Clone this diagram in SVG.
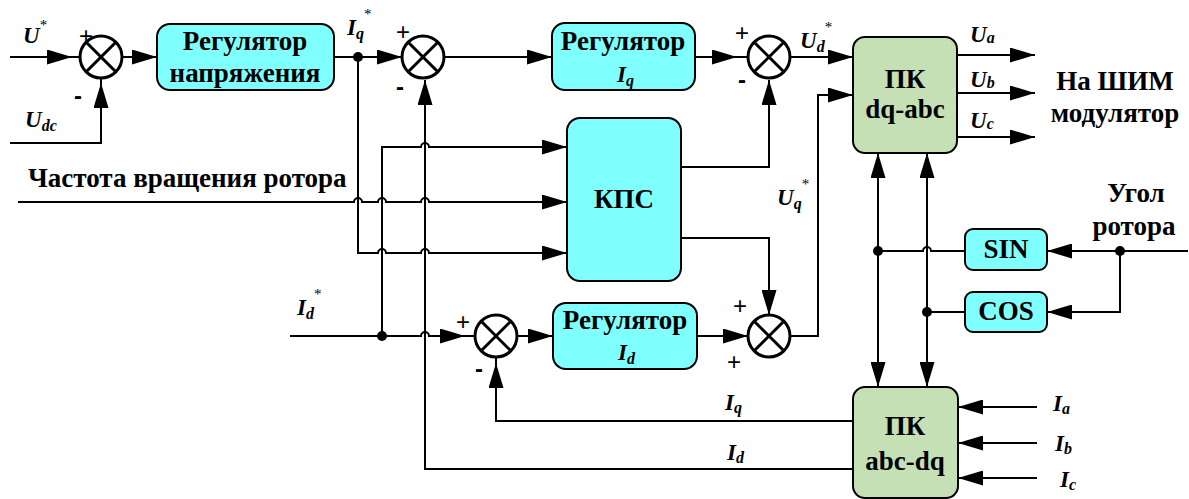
<svg xmlns="http://www.w3.org/2000/svg" width="1189" height="499" viewBox="0 0 1189 499">
<style>
.ln{fill:none;stroke:#000;stroke-width:2}
.ar{marker-end:url(#ah)}
.sum circle{fill:#fff;stroke:#000;stroke-width:3}
.sum path{stroke:#000;stroke-width:3;fill:none}
.cy{fill:#80FFFF;stroke:#000;stroke-width:2}
.gr{fill:#C5E0B4;stroke:#000;stroke-width:2}
text{font-family:'Liberation Serif','DejaVu Serif',serif}
.t{font-weight:700;font-size:27px;fill:#000;text-anchor:middle}
.ts{font-weight:700;font-size:27px;fill:#000;text-anchor:start}
.l{font-weight:700;font-style:italic;font-size:23px;fill:#000}
.s{font-size:16px}
.st{font-size:15px;font-style:normal;font-weight:normal}
text.pm{font-family:'Liberation Sans',Arial,sans-serif;font-size:24px;fill:#000;text-anchor:middle}
.dot{fill:#000}
</style>
<defs>
<marker id="ah" markerUnits="userSpaceOnUse" markerWidth="25" markerHeight="15" refX="25" refY="7.5" orient="auto-start-reverse" viewBox="0 0 25 15">
<path d="M0,0 L25,7.5 L0,15 z" fill="#000"/>
</marker>
</defs>

<g id="connectors">
<path class="ln ar" d="M10 57 H72"/><path class="ln" d="M72 57 H80"/>
<path class="ln ar" d="M10 143 H101 V83"/><path class="ln" d="M101 83 V78"/>
<path class="ln ar" d="M122 57 H157"/>
<path class="ln ar" d="M334 57 H402"/>
<path class="ln ar" d="M358 57 V253 H378 a4 4 0 0 1 8 0 H421 a4 4 0 0 1 8 0 H567"/>
<path class="ln ar" d="M18 202 H354 a4 4 0 0 1 8 0 H378 a4 4 0 0 1 8 0 H421 a4 4 0 0 1 8 0 H567"/>
<path class="ln ar" d="M382 336 V147 H421 a4 4 0 0 1 8 0 H567"/>
<path class="ln ar" d="M290 336 H421 a4 4 0 0 1 8 0 H465"/><path class="ln" d="M465 336 H475"/>
<path class="ln ar" d="M444 57 H552"/>
<path class="ln ar" d="M695 57 H737"/><path class="ln" d="M737 57 H748"/>
<path class="ln ar" d="M790 57 H853"/>
<path class="ln ar" d="M681 167 H769 V80"/>
<path class="ln ar" d="M681 238 H769 V315"/>
<path class="ln ar" d="M517 336 H553"/>
<path class="ln ar" d="M697 336 H748"/>
<path class="ln ar" d="M790 336 H818 V95 H853"/>
<path class="ln ar" d="M853 421 H496 V363"/><path class="ln" d="M496 363 V357"/>
<path class="ln ar" d="M853 469 H425 V80"/>
<path class="ln ar" d="M957 55 H1035"/>
<path class="ln ar" d="M957 93 H1035"/>
<path class="ln ar" d="M957 137 H1035"/>
<path class="ln ar" d="M878 153 V387" marker-start="url(#ah)"/>
<path class="ln ar" d="M927 153 V387" marker-start="url(#ah)"/>
<path class="ln" d="M878 251 H923 a4 4 0 0 1 8 0 H965"/>
<path class="ln" d="M927 312 H965"/>
<path class="ln ar" d="M1188 251 H1047"/>
<path class="ln ar" d="M1120 251 V312 H1047"/>
<path class="ln ar" d="M1037 407 H958"/>
<path class="ln ar" d="M1037 443 H958"/>
<path class="ln ar" d="M1037 478 H958"/>
<circle class="dot" cx="358" cy="57" r="5"/>
<circle class="dot" cx="382" cy="336" r="5"/>
<circle class="dot" cx="878" cy="251" r="5"/>
<circle class="dot" cx="927" cy="312" r="5"/>
<circle class="dot" cx="1120" cy="251" r="5"/>
</g>

<g id="sum1" class="sum"><circle cx="101" cy="57" r="21"/><path d="M86.2 42.2 L115.8 71.8 M115.8 42.2 L86.2 71.8"/></g>
<g id="sum2" class="sum"><circle cx="423" cy="57" r="21"/><path d="M408.2 42.2 L437.8 71.8 M437.8 42.2 L408.2 71.8"/></g>
<g id="sum3" class="sum"><circle cx="769" cy="57" r="21"/><path d="M754.2 42.2 L783.8 71.8 M783.8 42.2 L754.2 71.8"/></g>
<g id="sum4" class="sum"><circle cx="496" cy="336" r="21"/><path d="M481.2 321.2 L510.8 350.8 M510.8 321.2 L481.2 350.8"/></g>
<g id="sum5" class="sum"><circle cx="769" cy="336" r="21"/><path d="M754.2 321.2 L783.8 350.8 M783.8 321.2 L754.2 350.8"/></g>

<g id="signs">
<text class="pm" x="86" y="44">+</text><text class="pm" x="78" y="104" font-weight="bold">-</text>
<text class="pm" x="403" y="40">+</text><text class="pm" x="400" y="95" font-weight="bold">-</text>
<text class="pm" x="742" y="41">+</text><text class="pm" x="742" y="88" font-weight="bold">-</text>
<text class="pm" x="463" y="330">+</text><text class="pm" x="479" y="377" font-weight="bold">-</text>
<text class="pm" x="740" y="314">+</text><text class="pm" x="734" y="370">+</text>
</g>

<g id="reg-u"><rect class="cy" x="157" y="24" width="177" height="66" rx="13"/>
<text class="t" x="245" y="50">Регулятор</text><text class="t" x="245" y="82">напряжения</text></g>
<g id="reg-iq"><rect class="cy" x="552" y="23" width="143" height="67" rx="13"/>
<text class="t" x="623" y="50">Регулятор</text><text class="l" x="617" y="82">I<tspan class="s" dy="4">q</tspan></text></g>
<g id="kps"><rect class="cy" x="567" y="118" width="114" height="163" rx="13"/>
<text class="t" x="624" y="208">КПС</text></g>
<g id="reg-id"><rect class="cy" x="553" y="303" width="144" height="66" rx="13"/>
<text class="t" x="625" y="329">Регулятор</text><text class="l" x="618" y="360">I<tspan class="s" dy="4">d</tspan></text></g>
<g id="pk-dq-abc"><rect class="gr" x="853" y="37" width="104" height="116" rx="12"/>
<text class="t" x="905" y="88">ПК</text><text class="t" x="905" y="118">dq-abc</text></g>
<g id="pk-abc-dq"><rect class="gr" x="853" y="387" width="105" height="111" rx="12"/>
<text class="t" x="905" y="435">ПК</text><text class="t" x="905" y="470">abc-dq</text></g>
<g id="sin"><rect class="cy" x="965" y="229" width="82" height="41" rx="8"/>
<text class="t" x="1006" y="258">SIN</text></g>
<g id="cos"><rect class="cy" x="965" y="292" width="82" height="40" rx="8"/>
<text class="t" x="1006" y="320">COS</text></g>

<g id="labels">
<text class="l" x="23" y="43">U<tspan class="st" dy="-13">*</tspan></text>
<text class="l" x="25" y="127">U<tspan class="s" dy="4">dc</tspan></text>
<text class="l" x="347" y="35" font-size="21">I<tspan class="s" dy="4">q</tspan><tspan class="st" dy="-20">*</tspan></text>
<text class="l" x="800" y="48">U<tspan class="s" dy="4">d</tspan><tspan class="st" dy="-20">*</tspan></text>
<text class="l" x="777" y="205">U<tspan class="s" dy="4">q</tspan><tspan class="st" dy="-20">*</tspan></text>
<text class="l" x="297" y="315" font-size="21">I<tspan class="s" dy="4">d</tspan><tspan class="st" dy="-20">*</tspan></text>
<text class="l" x="970" y="42">U<tspan class="s" dy="1">a</tspan></text>
<text class="l" x="970" y="87">U<tspan class="s" dy="1">b</tspan></text>
<text class="l" x="970" y="128">U<tspan class="s" dy="1">c</tspan></text>
<text class="l" x="725" y="410" font-size="21">I<tspan class="s" dy="3">q</tspan></text>
<text class="l" x="727" y="460" font-size="21">I<tspan class="s" dy="3">d</tspan></text>
<text class="l" x="1053" y="411" font-size="21">I<tspan class="s" dy="3">a</tspan></text>
<text class="l" x="1055" y="451" font-size="21">I<tspan class="s" dy="3">b</tspan></text>
<text class="l" x="1060" y="487" font-size="21">I<tspan class="s" dy="3">c</tspan></text>
<text class="ts" x="28" y="187">Частота вращения ротора</text>
<text class="t" x="1115" y="90">На ШИМ</text>
<text class="t" x="1115" y="122">модулятор</text>
<text class="t" x="1136" y="202">Угол</text>
<text class="t" x="1134" y="235">ротора</text>
</g>
</svg>
